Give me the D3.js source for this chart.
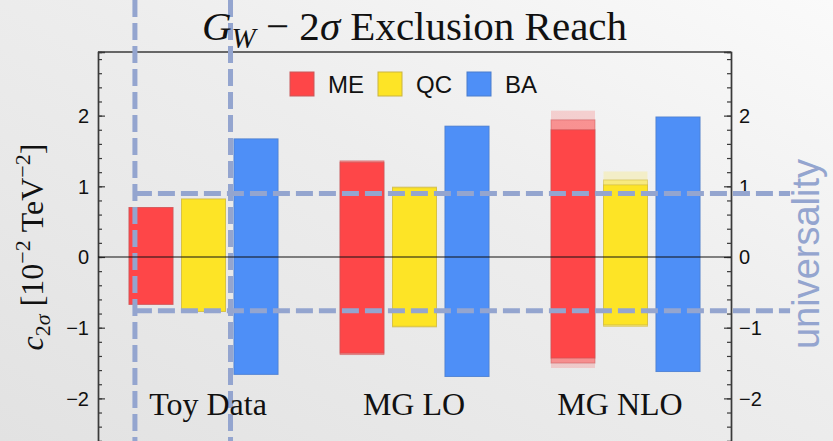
<!DOCTYPE html>
<html>
<head>
<meta charset="utf-8">
<script src="https://cdn.jsdelivr.net/npm/d3@7"></script>
<style>
  html, body { margin: 0; padding: 0; background: #eeeeee; }
  svg { display: block; }
</style>
</head>
<body>
<svg id="chart" width="833" height="441"></svg>
<script>
// ---- data ----
const groups = ["Toy Data", "MG LO", "MG NLO"];
const seriesNames = ["ME", "QC", "BA"];
const seriesColors = ["#fe4648", "#fde426", "#4e8ff7"];
const seriesStrokes = ["#c8585a", "#c9b440", "#4a7ccc"];

// [lower, upper] limits per group: inner (central), middle and outer variation bands
const meInner  = [[-0.67, 0.70], [-1.36, 1.34], [-1.43, 1.80]];
const meMiddle = [[-0.67, 0.70], [-1.38, 1.36], [-1.50, 1.94]];
const meOuter  = [[-0.67, 0.70], [-1.38, 1.36], [-1.57, 2.07]];
const qcInner  = [[-0.77, 0.82], [-0.98, 0.98], [-0.96, 1.02]];
const qcMiddle = [[-0.77, 0.82], [-0.99, 0.99], [-0.98, 1.09]];
const qcOuter  = [[-0.77, 0.82], [-0.99, 0.99], [-0.99, 1.21]];
const baInner  = [[-1.66, 1.67], [-1.69, 1.85], [-1.62, 1.98]];
const baMiddle = [[-1.66, 1.67], [-1.69, 1.85], [-1.62, 1.98]];
const baOuter  = [[-1.66, 1.67], [-1.69, 1.85], [-1.62, 1.98]];

const yTicks = [-2, -1, 0, 1, 2];
const yMinorStep = 0.2;

// universality window: coupling range and group-axis span
const uniRange = [-0.76, 0.90];
const uniGroupSpan = [0.175, 0.628];
const uniLineEnd = 3.28;

// ---- layout ----
const svg = d3.select("#chart");
const W = 833, H = 441;
const plotL = 98, plotR = 731, plotT = 52, plotB = 462;

const defs = svg.append("defs");
const grad = defs.append("linearGradient").attr("id", "bg")
  .attr("x1", "0").attr("y1", "1").attr("x2", "1").attr("y2", "0");
grad.append("stop").attr("offset", "0").attr("stop-color", "#e2e2e2");
grad.append("stop").attr("offset", "0.55").attr("stop-color", "#ededed");
grad.append("stop").attr("offset", "1").attr("stop-color", "#fafafa");
svg.append("rect").attr("width", W).attr("height", H).attr("fill", "url(#bg)");

const y = d3.scaleLinear().domain([-2.9, 2.9]).range([plotB, plotT]);
const x = d3.scaleBand().domain(groups).range([plotL, plotR]).padding(0);
const xLin = d3.scaleLinear().domain([0, groups.length]).range([plotL, plotR]);
const xSeries = d3.scalePoint().domain(seriesNames).range([-52.5, 52.5]);
const xLabel = d3.scalePoint().domain(groups).range([208, 620]);
const barW = 44;

const bandSets = [
  [meOuter, meMiddle, meInner],
  [qcOuter, qcMiddle, qcInner],
  [baOuter, baMiddle, baInner]
];
const layerStyle = [
  { fillOpacity: 0.2, strokeOpacity: 0.0 },
  { fillOpacity: 0.45, strokeOpacity: 0.5 },
  { fillOpacity: 1.0, strokeOpacity: 0.6 }
];

// ---- bars ----
const barsG = svg.append("g");
seriesNames.forEach((s, si) => {
  bandSets[si].forEach((layer, li) => {
    barsG.selectAll(null)
      .data(layer.map((v, gi) => ({ g: groups[gi], lo: v[0], hi: v[1] })))
      .join("rect")
      .attr("x", d => x(d.g) + x.bandwidth() / 2 + xSeries(s) - barW / 2)
      .attr("y", d => y(d.hi))
      .attr("width", barW)
      .attr("height", d => y(d.lo) - y(d.hi))
      .attr("fill", seriesColors[si])
      .attr("fill-opacity", layerStyle[li].fillOpacity)
      .attr("stroke", seriesStrokes[si])
      .attr("stroke-opacity", layerStyle[li].strokeOpacity)
      .attr("stroke-width", 1);
  });
});

// ---- axes ----
const axisColor = "#3a3a3a";
const minorTicks = d3.range(-2.8, 2.81, yMinorStep).map(v => Math.round(v * 10) / 10);
const fmt = v => (v < 0 ? "\u2212" + Math.abs(v) : String(v));

const leftAxis = d3.axisRight(y).tickValues(minorTicks).tickSize(4).tickFormat("");
const leftMajor = d3.axisRight(y).tickValues(yTicks).tickSize(7).tickFormat("");
const rightAxis = d3.axisLeft(y).tickValues(minorTicks).tickSize(4).tickFormat("");
const rightMajor = d3.axisLeft(y).tickValues(yTicks).tickSize(7).tickFormat("");

function styleAxis(g) {
  g.selectAll("path, line").attr("stroke", axisColor).attr("stroke-width", 1.2);
  g.select(".domain").attr("stroke-width", 1.4);
}
svg.append("g").attr("transform", `translate(${plotL},0)`).call(leftAxis).call(styleAxis);
svg.append("g").attr("transform", `translate(${plotL},0)`).call(leftMajor).call(styleAxis);
svg.append("g").attr("transform", `translate(${plotR},0)`).call(rightAxis).call(styleAxis);
svg.append("g").attr("transform", `translate(${plotR},0)`).call(rightMajor).call(styleAxis);

// top frame
svg.append("line").attr("x1", plotL).attr("x2", plotR).attr("y1", plotT).attr("y2", plotT)
  .attr("stroke", axisColor).attr("stroke-width", 1.4);

// tick labels
const tickFont = "'Liberation Sans', Arial, sans-serif";
svg.append("g").selectAll("text").data(yTicks).join("text")
  .attr("x", plotL - 9).attr("y", d => y(d)).attr("dy", "0.36em")
  .attr("text-anchor", "end").attr("font-family", tickFont).attr("font-size", 20)
  .attr("fill", "#111").text(fmt);
svg.append("g").selectAll("text").data(yTicks).join("text")
  .attr("x", plotR + 8).attr("y", d => y(d)).attr("dy", "0.36em")
  .attr("text-anchor", "start").attr("font-family", tickFont).attr("font-size", 20)
  .attr("fill", "#111").text(fmt);

// ---- universality window ----
const dashColor = "#94a5cf";
const dashG = svg.append("g").attr("stroke", dashColor).attr("stroke-width", 5)
  .attr("stroke-dasharray", "17 6").attr("fill", "none");
uniGroupSpan.forEach(gx => {
  dashG.append("line").attr("x1", xLin(gx)).attr("x2", xLin(gx)).attr("y1", 0).attr("y2", H);
});
uniRange.forEach(v => {
  dashG.append("line").attr("x1", xLin(uniGroupSpan[0])).attr("x2", xLin(uniLineEnd))
    .attr("y1", y(v)).attr("y2", y(v));
});
svg.append("text")
  .attr("transform", `translate(819,${y((uniRange[0] + uniRange[1]) / 2) + 2}) rotate(-90)`)
  .attr("text-anchor", "middle").attr("font-family", tickFont).attr("font-size", 38)
  .attr("fill", dashColor).text("universality");

// zero line
svg.append("line").attr("x1", plotL).attr("x2", plotR).attr("y1", y(0)).attr("y2", y(0))
  .attr("stroke", "#111").attr("stroke-width", 1.2);

// ---- group labels ----
const serif = "'Liberation Serif', 'Times New Roman', serif";
svg.append("g").selectAll("text").data(groups).join("text")
  .attr("x", d => xLabel(d)).attr("y", 415)
  .attr("text-anchor", "middle").attr("font-family", serif).attr("font-size", 32)
  .attr("fill", "#111").text(d => d);

// ---- title ----
const title = svg.append("text").attr("x", (plotL + plotR) / 2).attr("y", 40)
  .attr("text-anchor", "middle").attr("font-family", serif).attr("font-size", 41).attr("fill", "#111");
title.append("tspan").attr("font-style", "italic").text("G");
title.append("tspan").attr("font-style", "italic").attr("font-size", 29).attr("dy", 8).text("W");
title.append("tspan").attr("dy", -8).text(" \u2212 2");
title.append("tspan").attr("font-style", "italic").text("\u03c3");
title.append("tspan").text(" Exclusion Reach");

// ---- y label ----
const yl = svg.append("text").attr("transform", "translate(43,247) rotate(-90)")
  .attr("text-anchor", "middle").attr("font-family", serif).attr("font-size", 32).attr("fill", "#111");
yl.append("tspan").attr("font-style", "italic").text("c");
yl.append("tspan").attr("font-size", 22).attr("dy", 7).text("2");
yl.append("tspan").attr("font-size", 22).attr("font-style", "italic").text("\u03c3");
yl.append("tspan").attr("dy", -7).text(" [10");
yl.append("tspan").attr("font-size", 22).attr("dy", -13).text("\u22122");
yl.append("tspan").attr("dy", 13).text(" TeV");
yl.append("tspan").attr("font-size", 22).attr("dy", -13).text("\u22122");
yl.append("tspan").attr("dy", 13).text("]");

// ---- legend ----
const legendX = [290, 378, 467];
const legendG = svg.append("g");
seriesNames.forEach((s, i) => {
  legendG.append("rect").attr("x", legendX[i]).attr("y", 72).attr("width", 24).attr("height", 24)
    .attr("fill", seriesColors[i]).attr("stroke", seriesStrokes[i]).attr("stroke-width", 1);
  legendG.append("text").attr("x", legendX[i] + 38).attr("y", 93)
    .attr("font-family", tickFont).attr("font-size", 24).attr("fill", "#111").text(s);
});
</script>
</body>
</html>
